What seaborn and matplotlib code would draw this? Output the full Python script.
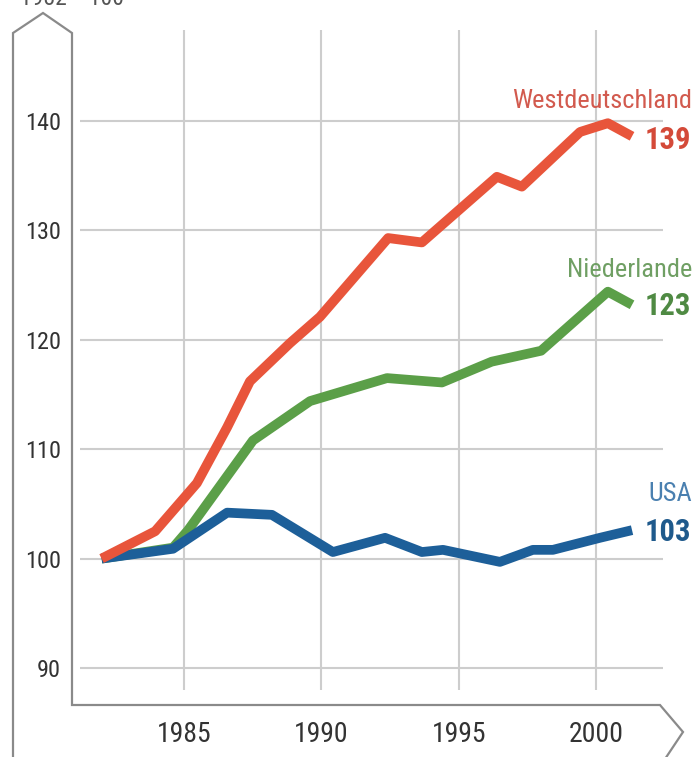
import matplotlib
matplotlib.use("Agg")
import matplotlib.pyplot as plt
import matplotlib.transforms as mtransforms
from matplotlib import font_manager as fm
from matplotlib.lines import Line2D
import numpy as np
import pandas as pd
import seaborn as sns

# Index values, 1982 = 100
de_years = [1982.0, 1983.95, 1985.47, 1986.57, 1987.4, 1988.86, 1989.95, 1992.43,
            1993.66, 1996.39, 1997.3, 1999.42, 2000.43, 2001.31]
de_values = [100.0, 102.5, 106.9, 112.0, 116.2, 119.7, 122.1, 129.3,
             128.9, 134.9, 134.0, 139.0, 139.8, 138.6]

nl_years = [1982.0, 1984.6, 1985.15, 1987.51, 1989.59, 1992.39, 1994.39, 1996.2,
            1998.0, 2000.43, 2001.31]
nl_values = [100.0, 101.0, 102.6, 110.8, 114.4, 116.5, 116.1, 118.0,
             119.0, 124.4, 123.2]

us_years = [1982.0, 1984.6, 1986.57, 1988.2, 1990.42, 1992.32, 1993.66, 1994.43,
            1996.5, 1997.7, 1998.43, 2000.14, 2001.31]
us_values = [100.0, 100.9, 104.2, 104.0, 100.6, 101.9, 100.6, 100.8,
             99.7, 100.8, 100.8, 101.9, 102.6]

series_names = ["Niederlande", "USA", "Westdeutschland"]
line_colors = {"Westdeutschland": "#e8553b", "Niederlande": "#5b9f48", "USA": "#1d5f99"}
name_colors = {"Westdeutschland": "#d25a4e", "Niederlande": "#6f9f63", "USA": "#4a80b0"}
value_colors = {"Westdeutschland": "#d44a39", "Niederlande": "#4f8a43", "USA": "#1f5a8c"}

x_ticks = [1985, 1990, 1995, 2000]
y_ticks = [90, 100, 110, 120, 130, 140]
base_label = "1982 = 100"

frames = [
    pd.DataFrame({"Jahr": de_years, "Index": de_values, "Land": "Westdeutschland"}),
    pd.DataFrame({"Jahr": nl_years, "Index": nl_values, "Land": "Niederlande"}),
    pd.DataFrame({"Jahr": us_years, "Index": us_values, "Land": "USA"}),
]
df = pd.concat(frames, ignore_index=True)


def pick_font(candidates):
    for name in candidates:
        try:
            fm.findfont(fm.FontProperties(family=name), fallback_to_default=False)
            return name
        except Exception:
            continue
    return "DejaVu Sans"


sns.set_theme(style="white")
font = pick_font(["Liberation Sans Narrow", "Roboto Condensed", "Open Sans Condensed", "Roboto"])
plt.rcParams["font.family"] = [font, "DejaVu Sans"]

W, H = 695, 757
fig = plt.figure(figsize=(W / 100, H / 100), dpi=100)
ax = fig.add_axes([0, 0, 1, 1])

# pixel <-> data scale
px_per_year = 27.47
px_per_unit = 10.94
ax.set_xlim(1985 - 184 / px_per_year, 1985 + (W - 184) / px_per_year)
ax.set_ylim(140 - (H - 121) / px_per_unit, 140 + 121 / px_per_unit)

for s in ax.spines.values():
    s.set_visible(False)
ax.set_facecolor("white")

grid_kw = dict(color="#cdcdcd", linewidth=1.5, zorder=1)
ax.hlines(y_ticks, 1985 + (80 - 184) / px_per_year, 1985 + (663 - 184) / px_per_year, **grid_kw)
ax.vlines(x_ticks, 140 - (690 - 121) / px_per_unit, 140 + (121 - 30) / px_per_unit, **grid_kw)

sns.lineplot(data=df, x="Jahr", y="Index", hue="Land", hue_order=series_names,
             palette=line_colors, linewidth=7.0, legend=False, ax=ax, zorder=3,
             solid_joinstyle="round", solid_capstyle="butt", estimator=None, sort=False)

ax.set_xticks(x_ticks)
ax.set_xticklabels([str(t) for t in x_ticks])
ax.set_yticks(y_ticks)
ax.set_yticklabels([str(t) for t in y_ticks])
ax.tick_params(axis="x", length=0, pad=-36 * 0.72, labelsize=20, colors="#333333")
ax.tick_params(axis="y", length=0, pad=-61 * 0.72, labelsize=17.5, colors="#333333")
ax.set_xlabel("")
ax.set_ylabel("")

# axis bands drawn in pixel coordinates
pix = mtransforms.Affine2D().scale(1 / W, -1 / H).translate(0, 1) + fig.transFigure
band_x = [13, 13, 43, 72, 72, 660, 683, 663]
band_y = [H + 5, 33, 13, 33, 705, 705, 732, H + 5]
fig.add_artist(Line2D(band_x, band_y, transform=pix, color="#8a8a8a", linewidth=1.6,
                      solid_joinstyle="miter", zorder=5))

fig.text(20 / W, 1 - 5 / H, base_label, fontsize=17, color="#555555", va="baseline", ha="left")

# end labels
end_info = {
    "Westdeutschland": (de_years[-1], de_values[-1], 101, 140),
    "Niederlande": (nl_years[-1], nl_values[-1], 270, 306),
    "USA": (us_years[-1], us_values[-1], 494, 532),
}
for name, (xe, ve, name_y, val_y) in end_info.items():
    fig.text(692 / W, 1 - name_y / H, name, fontsize=19, color=name_colors[name],
             ha="right", va="center")
    fig.text(691 / W, 1 - val_y / H, f"{round(ve)}", fontsize=22, fontweight="bold",
             color=value_colors[name], ha="right", va="center")

fig.savefig("out.png", dpi=100, facecolor="white")
